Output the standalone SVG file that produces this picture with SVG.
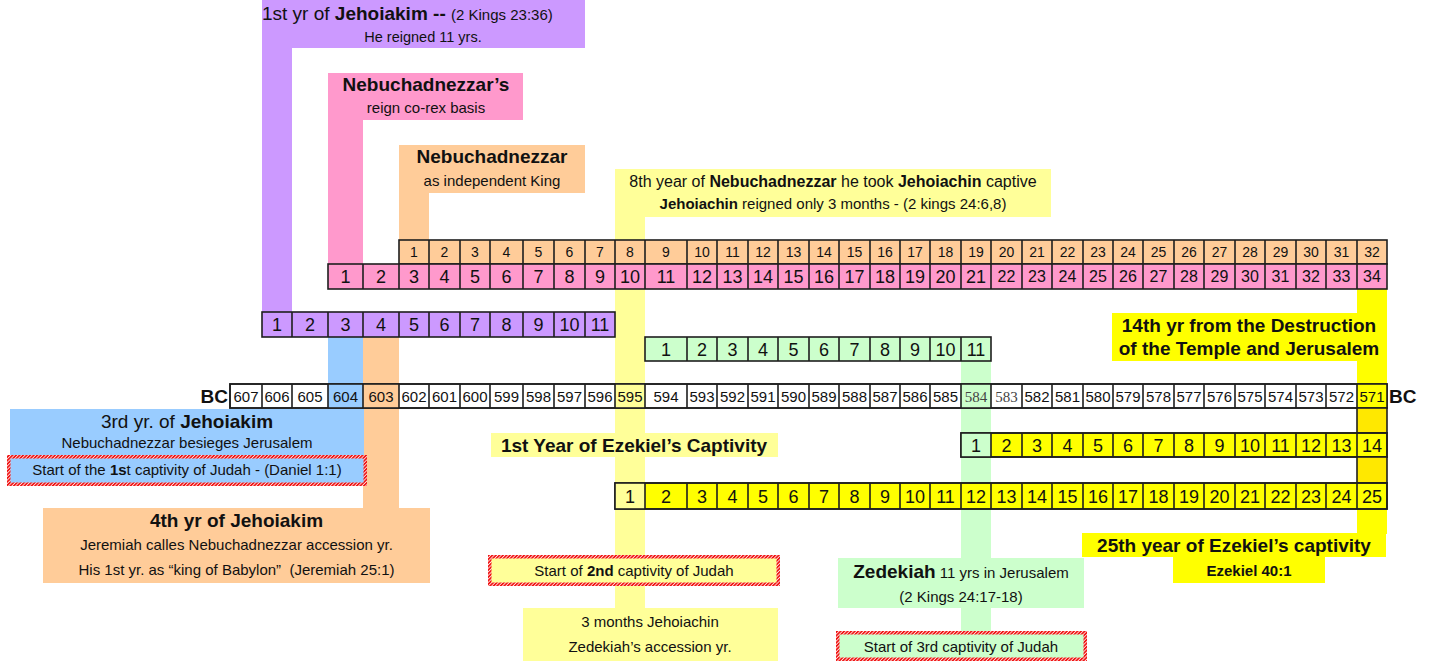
<svg xmlns="http://www.w3.org/2000/svg" width="1429" height="661" viewBox="0 0 1429 661">
<style>
text{font-family:"Liberation Sans",Arial,sans-serif;fill:#111;}
.c{text-anchor:middle;}
.b{font-weight:bold;}
.s15{font-size:15px;}
.s19{font-size:19px;}
.pu{fill:#CC99FF;}
.pk{fill:#FF99CC;}
.or{fill:#FFCC99;}
.ly{fill:#FFFF99;}
.gr{fill:#CCFFCC;}
.bl{fill:#99CCFF;}
.ye{fill:#FFFF00;}
.gd{fill:#FFE800;}
.wh{fill:#FFFFFF;}
.cell{stroke:#1e1e1e;stroke-width:1.6;}
.div{stroke:#1e1e1e;stroke-width:1.6;fill:none;}
.hat{stroke:url(#hatch);stroke-width:3.5;}
.n14{font-size:14px;text-anchor:middle;}
.n15{font-size:15px;text-anchor:middle;}
.n16{font-size:16px;text-anchor:middle;}
.n18{font-size:18px;text-anchor:middle;}
</style>
<defs>
<pattern id="hatch" width="2.5" height="2.5" patternUnits="userSpaceOnUse" patternTransform="rotate(45)">
<rect width="2.5" height="2.5" fill="#ffdddd"/>
<rect width="1.6" height="2.5" fill="#f01010"/>
</pattern>
</defs>
<rect width="1429" height="661" fill="#ffffff"/>

<g id="connectors">
<rect x="262" y="0" width="30" height="313" class="pu"/>
<rect x="328" y="73" width="35" height="192" class="pk"/>
<rect x="399" y="145" width="30" height="96" class="or"/>
<rect x="615" y="169" width="30" height="440" class="ly"/>
<rect x="328" y="337" width="35" height="72" class="bl"/>
<rect x="363" y="337" width="36" height="172" class="or"/>
<rect x="961" y="361" width="30" height="271" class="gr"/>
<rect x="1357" y="289" width="30" height="245" class="ye"/>
</g>

<g id="jehoiakim-1st">
<rect x="262" y="0" width="323" height="48" class="pu"/>
<text x="262" y="20" font-size="19px"><tspan>1st yr of </tspan><tspan class="b">Jehoiakim -- </tspan><tspan font-size="15px">(2 Kings 23:36)</tspan></text>
<text x="423" y="42" class="c" font-size="14.5px">He reigned 11 yrs.</text>
</g>

<g id="nebuchadnezzar-corex">
<rect x="328" y="73" width="195" height="47" class="pk"/>
<text x="426" y="91" class="c b s19">Nebuchadnezzar’s</text>
<text x="426" y="113" class="c s15">reign co-rex basis</text>
</g>

<g id="nebuchadnezzar-independent">
<rect x="399" y="145" width="186" height="48" class="or"/>
<text x="492" y="163" class="c b s19">Nebuchadnezzar</text>
<text x="492" y="186" class="c s15">as independent King</text>
</g>

<g id="jehoiachin-captive">
<rect x="615" y="169" width="436" height="48" class="ly"/>
<text x="833" y="187" class="c" font-size="16px">8th year of <tspan class="b">Nebuchadnezzar</tspan> he took <tspan class="b">Jehoiachin</tspan> captive</text>
<text x="833" y="209" class="c s15"><tspan class="b">Jehoiachin</tspan> reigned only 3 months - (2 kings 24:6,8)</text>
</g>

<g id="row-nebuchadnezzar-independent">
<rect x="399" y="240" width="988" height="24" class="or cell"/>
<path class="div" d="M429 240v24M460 240v24M490 240v24M523 240v24M554 240v24M585 240v24M615 240v24M645 240v24M687 240v24M717 240v24M748 240v24M778 240v24M809 240v24M839 240v24M870 240v24M900 240v24M930 240v24M961 240v24M991 240v24M1022 240v24M1052 240v24M1083 240v24M1113 240v24M1143 240v24M1174 240v24M1204 240v24M1235 240v24M1265 240v24M1296 240v24M1326 240v24M1357 240v24"/>
<text y="257" class="n14"><tspan x="414">1</tspan><tspan x="444.5">2</tspan><tspan x="475">3</tspan><tspan x="506.5">4</tspan><tspan x="538.5">5</tspan><tspan x="569.5">6</tspan><tspan x="600">7</tspan><tspan x="630">8</tspan><tspan x="666">9</tspan><tspan x="702">10</tspan><tspan x="732.5">11</tspan><tspan x="763">12</tspan><tspan x="793.5">13</tspan><tspan x="824">14</tspan><tspan x="854.5">15</tspan><tspan x="885">16</tspan><tspan x="915">17</tspan><tspan x="945.5">18</tspan><tspan x="976">19</tspan><tspan x="1006.5">20</tspan><tspan x="1037">21</tspan><tspan x="1067.5">22</tspan><tspan x="1098">23</tspan><tspan x="1128">24</tspan><tspan x="1158.5">25</tspan><tspan x="1189">26</tspan><tspan x="1219.5">27</tspan><tspan x="1250">28</tspan><tspan x="1280.5">29</tspan><tspan x="1311">30</tspan><tspan x="1341.5">31</tspan><tspan x="1372">32</tspan></text>
</g>

<g id="row-nebuchadnezzar-corex">
<rect x="328" y="264" width="1059" height="25" class="pk cell"/>
<path class="div" d="M363 264v25M399 264v25M429 264v25M460 264v25M490 264v25M523 264v25M554 264v25M585 264v25M615 264v25M645 264v25M687 264v25M717 264v25M748 264v25M778 264v25M809 264v25M839 264v25M870 264v25M900 264v25M930 264v25M961 264v25M991 264v25M1022 264v25M1052 264v25M1083 264v25M1113 264v25M1143 264v25M1174 264v25M1204 264v25M1235 264v25M1265 264v25M1296 264v25M1326 264v25M1357 264v25"/>
<text y="283" class="n18"><tspan x="345.5">1</tspan><tspan x="381">2</tspan><tspan x="414">3</tspan><tspan x="444.5">4</tspan><tspan x="475">5</tspan><tspan x="506.5">6</tspan><tspan x="538.5">7</tspan><tspan x="569.5">8</tspan><tspan x="600">9</tspan><tspan x="630">10</tspan><tspan x="666">11</tspan><tspan x="702">12</tspan><tspan x="732.5">13</tspan><tspan x="763">14</tspan><tspan x="793.5">15</tspan><tspan x="824">16</tspan><tspan x="854.5">17</tspan><tspan x="885">18</tspan><tspan x="915">19</tspan><tspan x="945.5">20</tspan><tspan x="976">21</tspan></text>
<text y="282" class="n16"><tspan x="1006.5">22</tspan><tspan x="1037">23</tspan><tspan x="1067.5">24</tspan><tspan x="1098">25</tspan><tspan x="1128">26</tspan><tspan x="1158.5">27</tspan><tspan x="1189">28</tspan><tspan x="1219.5">29</tspan><tspan x="1250">30</tspan><tspan x="1280.5">31</tspan><tspan x="1311">32</tspan><tspan x="1341.5">33</tspan><tspan x="1372">34</tspan></text>
</g>

<g id="row-jehoiakim">
<rect x="262" y="312" width="353" height="25" class="pu cell"/>
<path class="div" d="M292 312v25M328 312v25M363 312v25M399 312v25M429 312v25M460 312v25M490 312v25M523 312v25M554 312v25M585 312v25"/>
<text y="331" class="n18"><tspan x="277">1</tspan><tspan x="310">2</tspan><tspan x="345.5">3</tspan><tspan x="381">4</tspan><tspan x="414">5</tspan><tspan x="444.5">6</tspan><tspan x="475">7</tspan><tspan x="506.5">8</tspan><tspan x="538.5">9</tspan><tspan x="569.5">10</tspan><tspan x="600">11</tspan></text>
</g>

<g id="row-zedekiah">
<rect x="645" y="337" width="346" height="24" class="gr cell"/>
<path class="div" d="M687 337v24M717 337v24M748 337v24M778 337v24M809 337v24M839 337v24M870 337v24M900 337v24M930 337v24M961 337v24"/>
<text y="355.5" class="n18"><tspan x="666">1</tspan><tspan x="702">2</tspan><tspan x="732.5">3</tspan><tspan x="763">4</tspan><tspan x="793.5">5</tspan><tspan x="824">6</tspan><tspan x="854.5">7</tspan><tspan x="885">8</tspan><tspan x="915">9</tspan><tspan x="945.5">10</tspan><tspan x="976">11</tspan></text>
</g>

<g id="destruction-14th">
<rect x="1112" y="313" width="274" height="48" class="ye"/>
<text x="1249" y="332" class="c b s19">14th yr from the Destruction</text>
<text x="1249" y="355" class="c b s19">of the Temple and Jerusalem</text>
</g>

<g id="row-bc">
<rect x="230" y="384" width="1157" height="24" class="wh cell"/>
<rect x="328" y="384" width="35" height="24" class="bl"/>
<rect x="363" y="384" width="36" height="24" class="or"/>
<rect x="615" y="384" width="30" height="24" class="ly"/>
<rect x="961" y="384" width="30" height="24" class="gr"/>
<rect x="1357" y="384" width="30" height="24" class="ye"/>
<rect x="230" y="384" width="1157" height="24" class="cell" fill="none"/>
<path class="div" d="M262 384v24M292 384v24M328 384v24M363 384v24M399 384v24M429 384v24M460 384v24M490 384v24M523 384v24M554 384v24M585 384v24M615 384v24M645 384v24M687 384v24M717 384v24M748 384v24M778 384v24M809 384v24M839 384v24M870 384v24M900 384v24M930 384v24M961 384v24M991 384v24M1022 384v24M1052 384v24M1083 384v24M1113 384v24M1143 384v24M1174 384v24M1204 384v24M1235 384v24M1265 384v24M1296 384v24M1326 384v24M1357 384v24"/>
<text y="401.5" class="n15"><tspan x="246">607</tspan><tspan x="277">606</tspan><tspan x="310">605</tspan><tspan x="345.5">604</tspan><tspan x="381">603</tspan><tspan x="414">602</tspan><tspan x="444.5">601</tspan><tspan x="475">600</tspan><tspan x="506.5">599</tspan><tspan x="538.5">598</tspan><tspan x="569.5">597</tspan><tspan x="600">596</tspan><tspan x="630">595</tspan><tspan x="666">594</tspan><tspan x="702">593</tspan><tspan x="732.5">592</tspan><tspan x="763">591</tspan><tspan x="793.5">590</tspan><tspan x="824">589</tspan><tspan x="854.5">588</tspan><tspan x="885">587</tspan><tspan x="915">586</tspan><tspan x="945.5">585</tspan><tspan x="1037">582</tspan><tspan x="1067.5">581</tspan><tspan x="1098">580</tspan><tspan x="1128">579</tspan><tspan x="1158.5">578</tspan><tspan x="1189">577</tspan><tspan x="1219.5">576</tspan><tspan x="1250">575</tspan><tspan x="1280.5">574</tspan><tspan x="1311">573</tspan><tspan x="1341.5">572</tspan><tspan x="1372">571</tspan></text>
<text y="401.5" class="n15" style="font-family:'Liberation Serif','Times New Roman',serif;fill:#444"><tspan x="976">584</tspan><tspan x="1006.5">583</tspan></text>
<text x="228" y="403" class="b s19" text-anchor="end">BC</text>
<text x="1389" y="403" class="b s19">BC</text>
</g>

<g id="jehoiakim-3rd">
<rect x="10" y="409" width="354" height="46" class="bl"/>
<text x="187" y="428" class="c s19">3rd yr. of <tspan class="b">Jehoiakim</tspan></text>
<text x="187" y="448" class="c s15">Nebuchadnezzar besieges Jerusalem</text>
</g>

<g id="captivity-1st">
<rect x="8.75" y="456.75" width="356.5" height="27.5" class="bl hat"/>
<text x="187" y="475" class="c s15">Start of the <tspan class="b">1s</tspan>t captivity of Judah - (Daniel 1:1)</text>
</g>

<g id="ezekiel-1st-year">
<rect x="491" y="433" width="287" height="24" class="ly"/>
<text x="634" y="452" class="c b s19">1st Year of Ezekiel’s Captivity</text>
</g>

<g id="row-ezekiel-destruction">
<rect x="1357" y="408" width="30" height="25" class="gd cell"/>
<rect x="961" y="433" width="426" height="24" class="ye cell"/>
<rect x="961" y="433" width="30" height="24" class="gr"/>
<rect x="961" y="433" width="426" height="24" class="cell" fill="none"/>
<path class="div" d="M991 433v24M1022 433v24M1052 433v24M1083 433v24M1113 433v24M1143 433v24M1174 433v24M1204 433v24M1235 433v24M1265 433v24M1296 433v24M1326 433v24M1357 433v24"/>
<text y="451.5" class="n18"><tspan x="976">1</tspan><tspan x="1006.5">2</tspan><tspan x="1037">3</tspan><tspan x="1067.5">4</tspan><tspan x="1098">5</tspan><tspan x="1128">6</tspan><tspan x="1158.5">7</tspan><tspan x="1189">8</tspan><tspan x="1219.5">9</tspan><tspan x="1250">10</tspan><tspan x="1280.5">11</tspan><tspan x="1311">12</tspan><tspan x="1341.5">13</tspan><tspan x="1372">14</tspan></text>
<rect x="1357" y="457" width="30" height="26" class="gd cell"/>
</g>

<g id="row-ezekiel-captivity">
<rect x="615" y="483" width="772" height="26" class="ye cell"/>
<rect x="615" y="483" width="30" height="26" class="ly"/>
<rect x="615" y="483" width="772" height="26" class="cell" fill="none"/>
<path class="div" d="M645 483v26M687 483v26M717 483v26M748 483v26M778 483v26M809 483v26M839 483v26M870 483v26M900 483v26M930 483v26M961 483v26M991 483v26M1022 483v26M1052 483v26M1083 483v26M1113 483v26M1143 483v26M1174 483v26M1204 483v26M1235 483v26M1265 483v26M1296 483v26M1326 483v26M1357 483v26"/>
<text y="502.5" class="n18"><tspan x="630">1</tspan><tspan x="666">2</tspan><tspan x="702">3</tspan><tspan x="732.5">4</tspan><tspan x="763">5</tspan><tspan x="793.5">6</tspan><tspan x="824">7</tspan><tspan x="854.5">8</tspan><tspan x="885">9</tspan><tspan x="915">10</tspan><tspan x="945.5">11</tspan><tspan x="976">12</tspan><tspan x="1006.5">13</tspan><tspan x="1037">14</tspan><tspan x="1067.5">15</tspan><tspan x="1098">16</tspan><tspan x="1128">17</tspan><tspan x="1158.5">18</tspan><tspan x="1189">19</tspan><tspan x="1219.5">20</tspan><tspan x="1250">21</tspan><tspan x="1280.5">22</tspan><tspan x="1311">23</tspan><tspan x="1341.5">24</tspan><tspan x="1372">25</tspan></text>
</g>

<g id="jehoiakim-4th">
<rect x="43" y="508" width="387" height="75" class="or"/>
<text x="236.5" y="527" class="c b s19">4th yr of Jehoiakim</text>
<text x="236.5" y="550" class="c s15">Jeremiah calles Nebuchadnezzar accession yr.</text>
<text x="236.5" y="575" class="c s15">His 1st yr. as “king of Babylon”&#160; (Jeremiah 25:1)</text>
</g>

<g id="ezekiel-25th-year">
<rect x="1082" y="533" width="304" height="24" class="ye"/>
<text x="1234" y="552" class="c b s19">25th year of Ezekiel’s captivity</text>
<rect x="1173" y="557" width="152" height="26" class="ye"/>
<text x="1249" y="576" class="c b s15">Ezekiel 40:1</text>
</g>

<g id="captivity-2nd">
<rect x="489.75" y="556.75" width="288.5" height="27.5" class="ly hat"/>
<text x="634" y="576" class="c s15">Start of <tspan class="b">2nd</tspan> captivity of Judah</text>
</g>

<g id="jehoiachin-3-months">
<rect x="523" y="608" width="255" height="53" class="ly"/>
<text x="650" y="627" class="c s15">3 months Jehoiachin</text>
<text x="650" y="652" class="c s15">Zedekiah’s accession yr.</text>
</g>

<g id="zedekiah">
<rect x="838" y="558" width="246" height="50" class="gr"/>
<text x="961" y="578" class="c s15"><tspan class="b" font-size="19px">Zedekiah</tspan> 11 yrs in Jerusalem</text>
<text x="961" y="602" class="c s15">(2 Kings 24:17-18)</text>
</g>

<g id="captivity-3rd">
<rect x="837.75" y="632.75" width="247.5" height="26.5" class="gr hat"/>
<text x="961" y="652" class="c s15">Start of 3rd captivity of Judah</text>
</g>
</svg>
